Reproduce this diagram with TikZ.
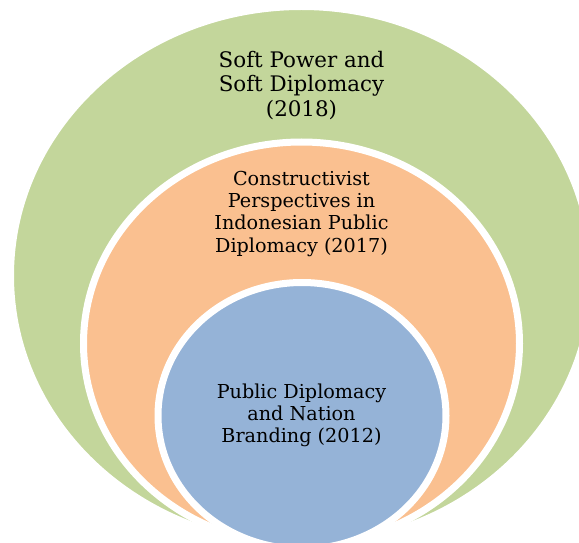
\documentclass[tikz,border=0pt]{standalone}
\usepackage{fontspec}
\setmainfont{DejaVu Serif}
\definecolor{ringgreen}{HTML}{C3D69B}
\definecolor{ringorange}{HTML}{FAC090}
\definecolor{ringblue}{HTML}{95B3D7}
\tikzset{
  ring/.style={draw=white, line width=7pt},
  label/.style={align=center, text=black, inner sep=0pt},
}
\begin{document}
\begin{tikzpicture}[x=1pt,y=1pt]
\useasboundingbox (0,0) rectangle (579,542);
\begin{scope}
\clip (0,0) rectangle (579,542);
\path[ring, fill=ringgreen] (301.5,266.25) ellipse [x radius=291, y radius=269.25];
\path[ring, fill=ringorange] (301.5,198.5) ellipse [x radius=218, y radius=201.5];
\path[ring, fill=ringblue] (302,126.25) ellipse [x radius=144, y radius=133.25];
\end{scope}
\node[label, font=\fontsize{21.4}{24.5}\selectfont] (outer) at (301.5,456.5) {Soft Power and\\Soft Diplomacy\\(2018)};
\node[label, font=\fontsize{19.2}{22.3}\selectfont] (middle) at (301.5,328.3) {Constructivist\\Perspectives in\\Indonesian Public\\Diplomacy (2017)};
\node[label, font=\fontsize{19.2}{21.7}\selectfont] (inner) at (301.5,126.5) {Public Diplomacy\\and Nation\\Branding (2012)};
\end{tikzpicture}
\end{document}
